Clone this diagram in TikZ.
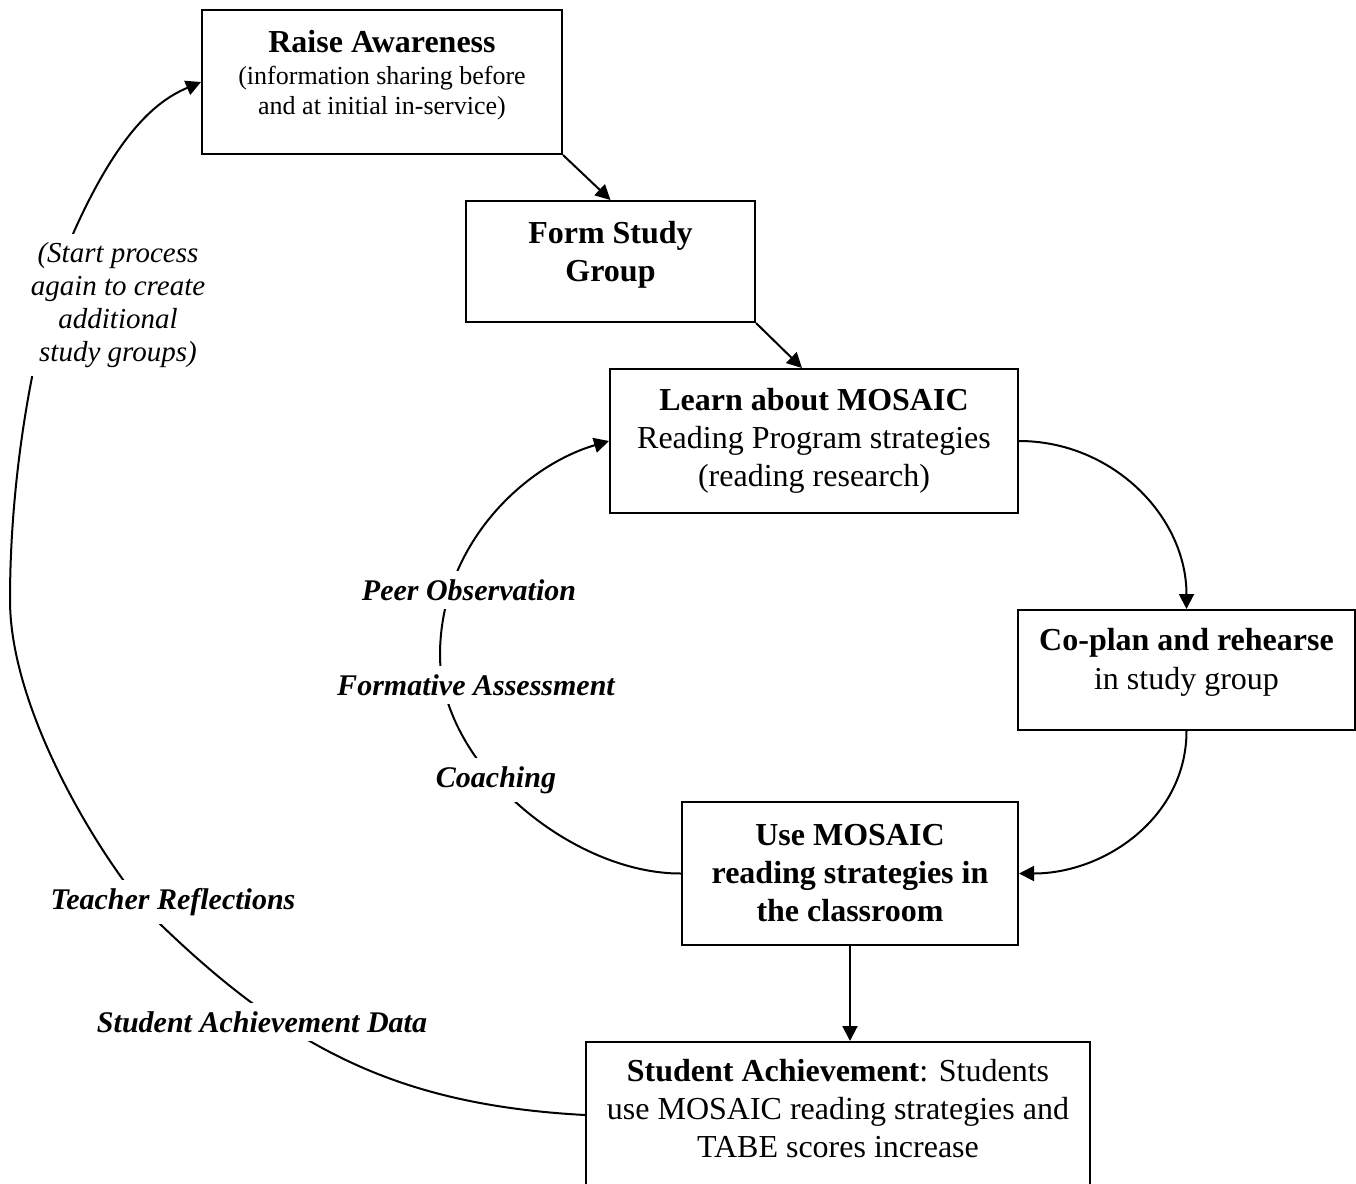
\documentclass[tikz,border=0pt]{standalone}
\usepackage{fontspec}
\setmainfont{Liberation Serif}
\usetikzlibrary{arrows.meta}
\newcommand{\lowpad}[1]{\rule[-#1]{0pt}{0pt}}
\tikzset{
    stage/.style={
        rectangle,
        draw=black,
        line width=1pt,
        fill=white,
        align=center,
        inner sep=2pt,
        font=\fontsize{16}{19}\selectfont,
    },
    note/.style={
        fill=white,
        align=center,
        inner sep=4pt,
        font=\fontsize{15}{17}\selectfont\bfseries\itshape,
    },
    flow/.style={
        ->,
        line width=1pt,
    }
}

\begin{document}
\begin{tikzpicture}[x=0.5pt,y=-0.5pt,>={Triangle[length=7.5pt,width=7.5pt]}]
    \useasboundingbox (0,0) rectangle (1356,1184);
    % the stages
    \node [stage,minimum width=180pt,minimum height=72pt,font=\fontsize{13}{15}\selectfont] (aware) at (382,82)
        {{\fontsize{16}{19}\selectfont\bfseries Raise Awareness}\\[1pt]
         (information sharing before\\and at initial in-service)\lowpad{9.5pt}};
    \node [stage,minimum width=144.5pt,minimum height=60.5pt,font=\fontsize{16}{19}\selectfont\bfseries] (form) at (610.5,261.5)
        {Form Study\\Group\lowpad{10pt}};
    \node [stage,minimum width=204pt,minimum height=72pt] (learn) at (814,441)
        {\textbf{Learn about MOSAIC}\\Reading Program strategies\\(reading research)};
    \node [stage,minimum width=168.5pt,minimum height=60pt] (coplan) at (1186.5,670)
        {\textbf{Co-plan and rehearse}\\[0.5pt]in study group\lowpad{11pt}};
    \node [stage,minimum width=168pt,minimum height=71.5pt,font=\fontsize{16}{19}\selectfont\bfseries] (use) at (850,873.5)
        {Use MOSAIC\\reading strategies in\\the classroom};
    \node [stage,minimum width=252pt,minimum height=73pt] (student) at (838,1115)
        {\textbf{Student Achievement}: Students\\use MOSAIC reading strategies and\\TABE scores increase\lowpad{7pt}};

    % main cycle
    \draw [flow] (aware.south east) -- (form.north);
    \draw [flow] (form.south east) -- ([xshift=-6pt]learn.north);
    \draw [flow] (learn.east) to[out=0,in=90] (coplan.north);
    \draw [flow] (coplan.south) to[out=-90,in=0] (use.east);
    \draw [flow] (use.south) -- (use.south |- student.north);

    % inner loop
    \draw [flow] (use.west) .. controls (572,874) and (440,765) .. (440,655)
        .. controls (440,545) and (524,466) .. (learn.west);
    % outer loop
    \draw [flow] (student.west) .. controls (400,1105) and (290,1050) .. (158,922)
        .. controls (115,880) and (10,720) .. (10,600)
        .. controls (10,450) and (43,298) .. (77,225)
        .. controls (123,125) and (161,99) .. (aware.west);

    % labels on the loops
    \node [note] (peer) at (469,590) {Peer Observation};
    \node [note] (formative) at (476,685) {Formative Assessment};
    \node [note] (coach) at (496,780) {Coaching};
    \node [note] (reflect) at (173,902) {Teacher Reflections};
    \node [note] (data) at (262,1022) {Student Achievement Data};
    \node [note,font=\fontsize{14.5}{16.5}\selectfont\itshape] (again) at (118,305)
        {(Start process\\again to create\\additional\\study groups)};
\end{tikzpicture}
\end{document}
